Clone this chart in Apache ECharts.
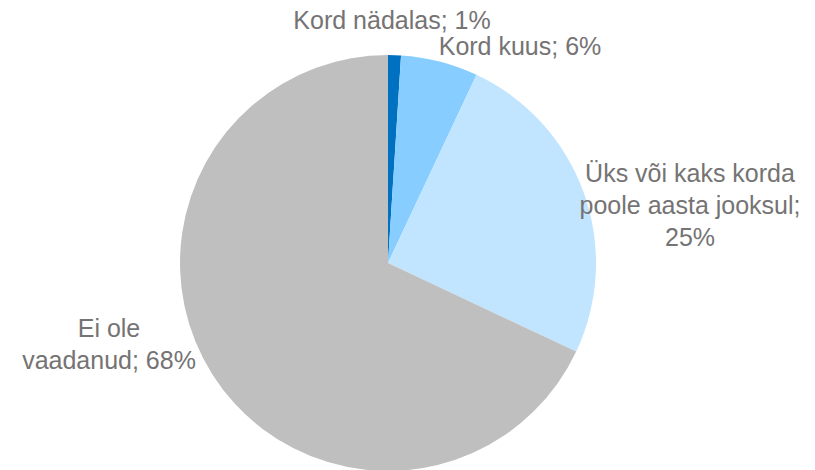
<!DOCTYPE html>
<html>
<head>
<meta charset="utf-8">
<script src="https://cdn.jsdelivr.net/npm/echarts@6/dist/echarts.min.js"></script>
<style>
html, body { margin: 0; padding: 0; background: #fff; }
#chart { width: 815px; height: 470px; }
</style>
</head>
<body>
<div id="chart"></div>
<script>
// data
var categories = ['Kord nädalas', 'Kord kuus', 'Üks või kaks korda\npoole aasta jooksul', 'Ei ole\nvaadanud'];
var values = [1, 6, 25, 68];
var colors = ['#0070C0', '#87CDFF', '#C1E5FF', '#BFBFBF'];

// label centres (px)
var labelPos = [[392, 20], [520, 46], [690, 205], [109, 344]];

var chart = echarts.init(document.getElementById('chart'), null, {renderer: 'svg'});

chart.setOption({
	animation: false,
	series: [
		{
			type: 'pie',
			center: [388, 263],
			radius: 208,
			startAngle: 90,
			clockwise: true,
			data: categories.map(function (c, i) {
				return {name: c, value: values[i], itemStyle: {color: colors[i]}};
			}),
			label: {
				show: true,
				position: 'outside',
				formatter: function (p) {
					var txt = p.name + '; ' + p.value + '%';
					// 25% goes on its own line for the long label
					if (p.dataIndex === 2) txt = p.name + ';\n' + p.value + '%';
					return txt;
				},
				fontFamily: 'Liberation Sans, Arial, sans-serif',
				fontSize: 25,
				lineHeight: 32,
				color: '#757373',
				align: 'center',
				overflow: 'none',
				width: 300
			},
			labelLine: { show: false },
			labelLayout: function (params) {
				var p = labelPos[params.dataIndex];
				return {x: p[0], y: p[1], align: 'center', verticalAlign: 'middle'};
			},
			emphasis: { disabled: true }
		}
	]
});
</script>
</body>
</html>
